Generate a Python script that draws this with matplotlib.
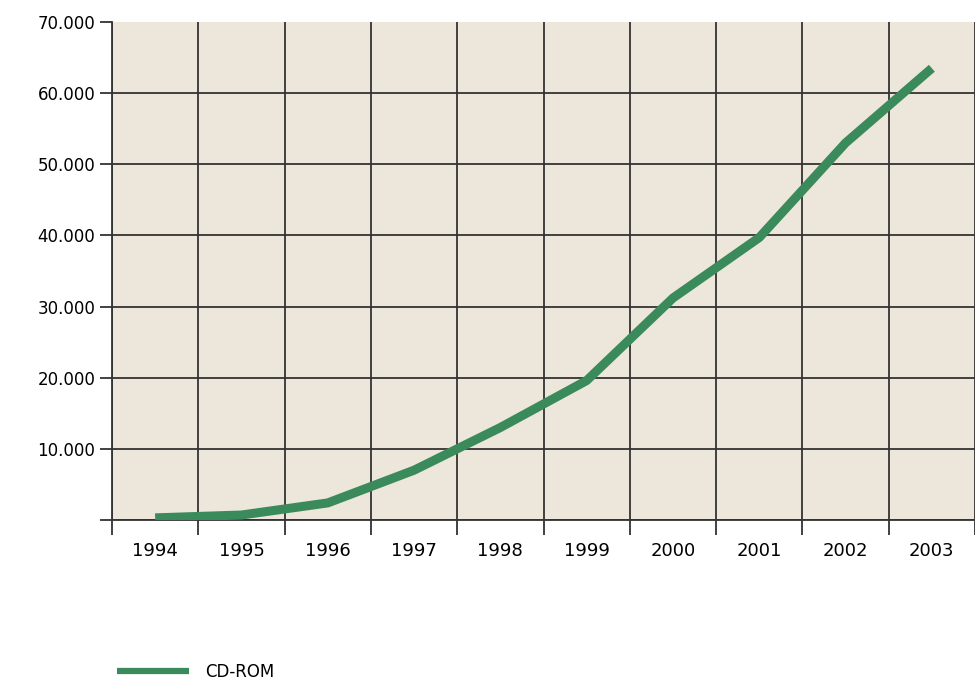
import matplotlib
matplotlib.use("Agg")
import matplotlib.pyplot as plt

# data
years = ["1994", "1995", "1996", "1997", "1998", "1999", "2000", "2001", "2002", "2003"]
cdrom = [300, 700, 2400, 7000, 13000, 19600, 31200, 39700, 53000, 63500]
yticks = [0, 10000, 20000, 30000, 40000, 50000, 60000, 70000]
ylabels = ["", "10.000", "20.000", "30.000", "40.000", "50.000", "60.000", "70.000"]

plt.rcParams['font.family'] = ['DejaVu Sans']

fig = plt.figure(figsize=(9.75, 6.86), dpi=100)
ax = fig.add_axes([112/975, 1-520/686, 863/975, 498/686])
ax.set_facecolor("#ece7da")

x = list(range(len(years)))
ax.plot(x, cdrom, color="#3a8a5c", lw=6.5, solid_joinstyle="round",
        solid_capstyle="butt", label="CD-ROM", zorder=3)

ax.set_xlim(-0.5, len(years) - 0.5)
ax.set_ylim(0, 70000)

# boundaries between years carry the grid and the ticks
ax.set_xticks([i - 0.5 for i in range(len(years) + 1)])
ax.set_xticklabels([])
ax.set_xticks(x, minor=True)
ax.set_xticklabels(years, minor=True, fontsize=13)
ax.tick_params(axis="x", which="major", length=11, width=1.3, color="#333333")
ax.tick_params(axis="x", which="minor", length=0, pad=16)

ax.set_yticks(yticks)
ax.set_yticklabels(ylabels, fontsize=12)
ax.tick_params(axis="y", length=9, width=1.3, color="#333333", pad=3)

ax.grid(True, which="major", color="#333333", lw=1.3, zorder=1)
ax.get_ygridlines()[-1].set_visible(False)
for s in ["top", "right"]:
    ax.spines[s].set_visible(False)
for s in ["left", "bottom"]:
    ax.spines[s].set_color("#333333")
    ax.spines[s].set_linewidth(1.3)

fig.legend(loc="center left", bbox_to_anchor=(112/975, 1-672/686),
           borderaxespad=0, borderpad=0.3, frameon=False, fontsize=12,
           handlelength=4.3, handletextpad=1.0)
for h in fig.legends[0].get_lines():
    h.set_linewidth(4.5)

fig.savefig("out.png", dpi=100)
